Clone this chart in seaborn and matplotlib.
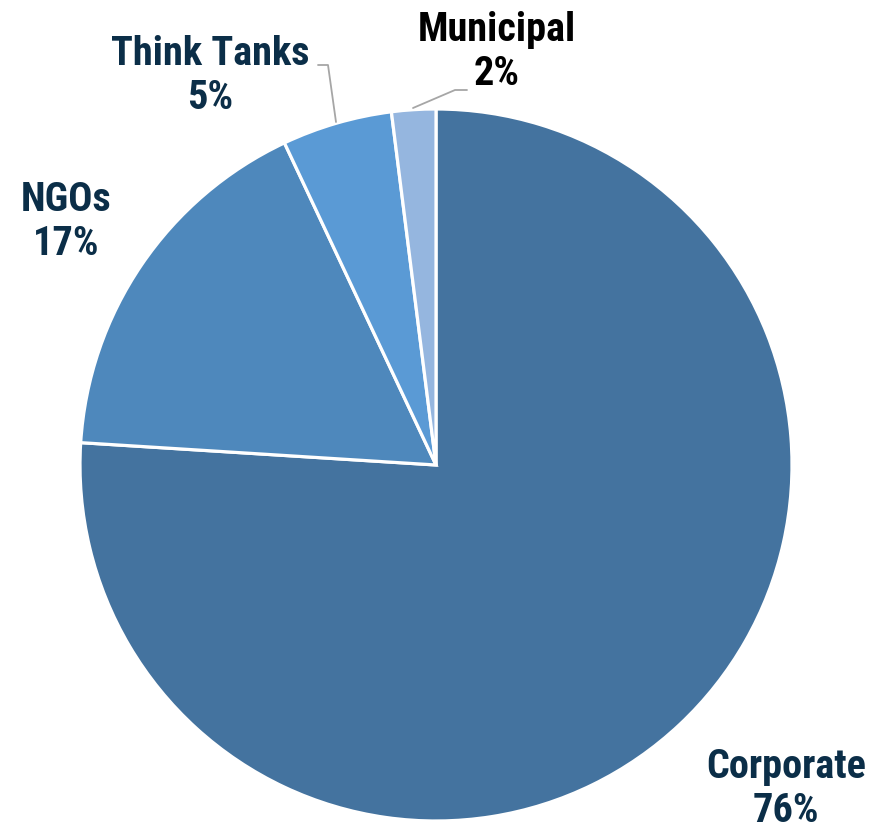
import seaborn as sns
import matplotlib.pyplot as plt

# sector shares (%)
sectors = ['Corporate', 'NGOs', 'Think Tanks', 'Municipal']
shares = [76, 17, 5, 2]
colors = ['#44739f', '#4e88bc', '#5a9ad5', '#95b6df']
text_colors = ['#0b2e48', '#0b2e48', '#0b2e48', '#000000']

sns.set_theme(style='white')
plt.rcParams['font.family'] = ['Roboto Condensed', 'Liberation Sans', 'DejaVu Sans']

fig = plt.figure(figsize=(8.84, 8.33), dpi=100)
ax = fig.add_axes([0, 0, 1, 1])

H = 833
cx, cy, r = 436, H - 465, 356
ax.pie(shares, colors=sns.color_palette(colors), startangle=90, counterclock=False,
       center=(cx, cy), radius=r,
       wedgeprops=dict(edgecolor='white', linewidth=2.3))

ax.set_xlim(0, 884)
ax.set_ylim(0, H)
ax.set_aspect('auto')
ax.axis('off')

# label positions in pixels (x, y from top)
label_pos = [(786, 789), (66, 222), (210, 76), (497, 52)]
for name, val, (px, py), tc in zip(sectors, shares, label_pos, text_colors):
    ax.text(px, H - py, f'{name}\n{val}%', ha='center', va='center',
            fontsize=29, fontweight='bold', color=tc, linespacing=1.2)

# leader lines
ax.plot([318, 328, 336], [H - 65, H - 65, H - 122], color='#a6a6a6', lw=1.3)
ax.plot([413, 455, 467], [H - 108, H - 90, H - 90], color='#a6a6a6', lw=1.3)

fig.savefig('out.png', dpi=100)
